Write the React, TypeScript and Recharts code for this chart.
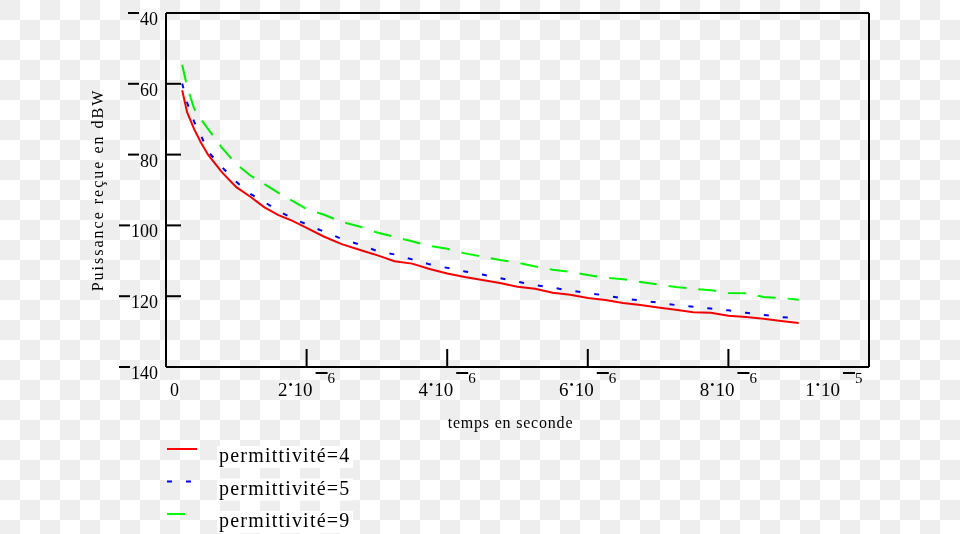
import { LineChart, Line, XAxis, YAxis } from "recharts";

// temps en microsecondes (axe gradué en secondes)
const tempsUs = [
    0.23, 0.3, 0.4, 0.5, 0.6, 0.8, 1.0, 1.2, 1.4, 1.6, 1.8, 2.0, 2.25, 2.5, 2.75,
    3.0, 3.25, 3.5, 3.75, 4.0, 4.25, 4.5, 4.75, 5.0, 5.25, 5.5, 5.75, 6.0, 6.25,
    6.5, 6.75, 7.0, 7.25, 7.5, 7.75, 8.0, 8.25, 8.5, 8.75, 9.0,
];

// puissance reçue en dBW
const permittivite4 = [
    -61.8, -68.0, -72.8, -76.7, -80.1, -85.1, -89.2, -91.9, -94.9, -97.1, -98.7,
    -100.7, -103.2, -105.3, -106.9, -108.4, -110.1, -110.8, -112.3, -113.6, -114.6,
    -115.4, -116.3, -117.3, -117.9, -119.0, -119.6, -120.5, -121.1, -121.9, -122.5,
    -123.2, -123.8, -124.5, -124.7, -125.5, -125.9, -126.4, -127.0, -127.6,
];
const permittivite5 = [
    -59.9, -65.3, -70.7, -74.7, -79.2, -83.6, -87.7, -91.1, -93.4, -95.9, -98.0,
    -99.7, -101.8, -103.8, -105.4, -107.2, -108.2, -109.6, -111.0, -112.0, -113.0,
    -113.9, -114.9, -115.9, -116.9, -117.6, -118.4, -119.1, -119.8, -120.6, -121.2,
    -121.8, -122.5, -123.0, -123.5, -124.0, -124.7, -125.3, -125.9, -126.3,
];
const permittivite9 = [
    -54.6, -60.8, -67.0, -70.1, -72.8, -78.2, -82.7, -85.9, -88.3, -90.8, -93.1,
    -95.4, -97.0, -99.0, -100.3, -102.0, -103.2, -104.5, -105.8, -106.6, -107.9,
    -108.8, -109.8, -110.5, -111.6, -112.5, -113.1, -114.0, -114.8, -115.2, -116.0,
    -116.7, -117.4, -117.9, -118.3, -119.1, -119.2, -120.2, -120.5, -121.0,
];

const yTicks = [-140, -120, -100, -80, -60, -40];
const xTicks = [0, 2, 4, 6, 8, 10];
const xTickLabels = [
    { mant: "0", base: "", exp: "" },
    { mant: "2", base: "10", exp: "6" },
    { mant: "4", base: "10", exp: "6" },
    { mant: "6", base: "10", exp: "6" },
    { mant: "8", base: "10", exp: "6" },
    { mant: "1", base: "10", exp: "5" },
];

const SERIES = [
    { key: "eps4", label: "permittivité=4", color: "#ff0000", dash: undefined },
    { key: "eps5", label: "permittivité=5", color: "#0000ff", dash: "5 14" },
    { key: "eps9", label: "permittivité=9", color: "#00ff00", dash: "18 12" },
];

const data = tempsUs.map((t, i) => ({
    t,
    eps4: permittivite4[i],
    eps5: permittivite5[i],
    eps9: permittivite9[i],
}));

const FONT = "'Liberation Serif', 'DejaVu Serif', serif";
const AXIS_LINE = { stroke: "#000", strokeWidth: 2 };
const DAMIER = "#eeeeee";

function LeftTick(props: any) {
    const { x, y, payload } = props;
    const v = payload.value;
    const inner = v !== -140 && v !== -40;
    const digits = String(Math.abs(v));
    // signe moins dessiné comme un trait, à hauteur de la graduation
    const dashEnd = x - 8 - 9 * digits.length - 1;
    return (
        <g>
            {inner && (
                <line x1={x} x2={x + 15} y1={y} y2={y} stroke="#000" strokeWidth={2} />
            )}
            <line x1={dashEnd - 11} x2={dashEnd} y1={y} y2={y} stroke="#000" strokeWidth={2} />
            <text
                x={x - 8}
                y={y + 12}
                textAnchor="end"
                fontSize={18}
                fontFamily={FONT}
                fill="#000"
            >
                {digits}
            </text>
        </g>
    );
}

function RightTick(props: any) {
    const { x, y, payload } = props;
    const v = payload.value;
    if (v === -140 || v === -40) return <g />;
    return <line x1={x - 17} x2={x} y1={y} y2={y} stroke="#000" strokeWidth={2} />;
}

function BottomTick(props: any) {
    const { x, y, index } = props;
    const lab = xTickLabels[index];
    const last = index === xTicks.length - 1;
    const inner = index > 0 && !last;
    if (!lab.base) {
        return (
            <text x={x + 4} y={y + 29} fontSize={18} fontFamily={FONT} fill="#000">
                {lab.mant}
            </text>
        );
    }
    const end = last ? x - 29 : x + 6;
    return (
        <g>
            {inner && (
                <line x1={x} x2={x} y1={y} y2={y - 18} stroke="#000" strokeWidth={2} />
            )}
            <text
                x={end}
                y={y + 29}
                textAnchor="end"
                fontSize={19}
                fontFamily={FONT}
                fill="#000"
            >
                <tspan>{lab.mant}</tspan>
                <tspan fontSize={12} dx={1} dy={-7}>•</tspan>
                <tspan dx={1} dy={7}>{lab.base}</tspan>
            </text>
            <line x1={end + 3} x2={end + 15} y1={y + 6} y2={y + 6} stroke="#000" strokeWidth={2} />
            <text x={end + 15} y={y + 16} fontSize={15} fontFamily={FONT} fill="#000">
                {lab.exp}
            </text>
        </g>
    );
}

function XTitle(props: any) {
    const vb = props.viewBox;
    return (
        <text
            x={vb.x + vb.width / 2 - 7}
            y={vb.y + 61}
            textAnchor="middle"
            fontSize={16}
            letterSpacing={0.8}
            fontFamily={FONT}
            fill="#000"
        >
            temps en seconde
        </text>
    );
}

function YTitle(props: any) {
    const vb = props.viewBox;
    const cx = vb.x + vb.width - 63;
    const cy = vb.y + vb.height / 2;
    return (
        <text
            x={cx}
            y={cy}
            transform={`rotate(-90 ${cx} ${cy})`}
            textAnchor="middle"
            fontSize={16}
            letterSpacing={2}
            fontFamily={FONT}
            fill="#000"
        >
            Puissance reçue en dBW
        </text>
    );
}

export default function App() {
    return (
        <div
            style={{
                position: "absolute",
                left: 0,
                top: 0,
                width: 960,
                height: 534,
                background: "#fff",
                isolation: "isolate",
            }}
        >
            <div style={{ position: "absolute", left: 0, top: 0 }}>
                <LineChart
                    width={960}
                    height={534}
                    data={data}
                    margin={{ top: 12, right: 90, bottom: 166, left: 165 }}
                >
                    <XAxis
                        dataKey="t"
                        type="number"
                        domain={[0, 10]}
                        ticks={xTicks}
                        height={1}
                        tickSize={0}
                        tickMargin={0}
                        axisLine={AXIS_LINE}
                        tickLine={false}
                        tick={<BottomTick />}
                        interval={0}
                        label={<XTitle />}
                    />
                    <XAxis
                        xAxisId="top"
                        orientation="top"
                        type="number"
                        domain={[0, 10]}
                        ticks={xTicks}
                        height={1}
                        tickSize={0}
                        axisLine={AXIS_LINE}
                        tickLine={false}
                        tick={false}
                    />
                    <YAxis
                        type="number"
                        domain={[-140, -40]}
                        ticks={yTicks}
                        width={1}
                        tickSize={0}
                        tickMargin={0}
                        axisLine={AXIS_LINE}
                        tickLine={false}
                        tick={<LeftTick />}
                        interval={0}
                        label={<YTitle />}
                    />
                    <YAxis
                        yAxisId="right"
                        orientation="right"
                        type="number"
                        domain={[-140, -40]}
                        ticks={yTicks}
                        width={1}
                        tickSize={0}
                        tickMargin={0}
                        axisLine={AXIS_LINE}
                        tickLine={false}
                        tick={<RightTick />}
                        interval={0}
                    />
                    {SERIES.map((s) => (
                        <Line
                            key={s.key}
                            type="linear"
                            dataKey={s.key}
                            stroke={s.color}
                            strokeWidth={2}
                            strokeDasharray={s.dash}
                            dot={false}
                            isAnimationActive={false}
                        />
                    ))}
                </LineChart>
            </div>

            {/* fond en damier, appliqué en multiplication par-dessus le graphique */}
            <svg
                width={960}
                height={534}
                style={{
                    position: "absolute",
                    left: 0,
                    top: 0,
                    pointerEvents: "none",
                    mixBlendMode: "multiply",
                }}
            >
                {Array.from({ length: 27 }, (_, r) =>
                    Array.from({ length: 48 }, (_, c) =>
                        (r + c) % 2 === 0 ? (
                            <rect
                                key={`${r}-${c}`}
                                x={c * 20}
                                y={r * 20}
                                width={20}
                                height={20}
                                fill={DAMIER}
                            />
                        ) : null
                    )
                )}
            </svg>

            {/* Légende */}
            <svg
                width={960}
                height={534}
                style={{ position: "absolute", left: 0, top: 0, pointerEvents: "none" }}
            >
                {SERIES.map((s, i) => (
                    <g key={s.key}>
                        <line
                            x1={167}
                            x2={197}
                            y1={449 + 32.5 * i}
                            y2={449 + 32.5 * i}
                            stroke={s.color}
                            strokeWidth={2}
                            strokeDasharray={s.dash}
                        />
                        <rect x={217} y={446 + 32.5 * i} width={136} height={22} fill="#fff" />
                        <text
                            x={219}
                            y={462 + 32.5 * i}
                            fontSize={20}
                            letterSpacing={1.2}
                            fontFamily={FONT}
                            fill="#000"
                        >
                            {s.label}
                        </text>
                    </g>
                ))}
            </svg>
        </div>
    );
}
